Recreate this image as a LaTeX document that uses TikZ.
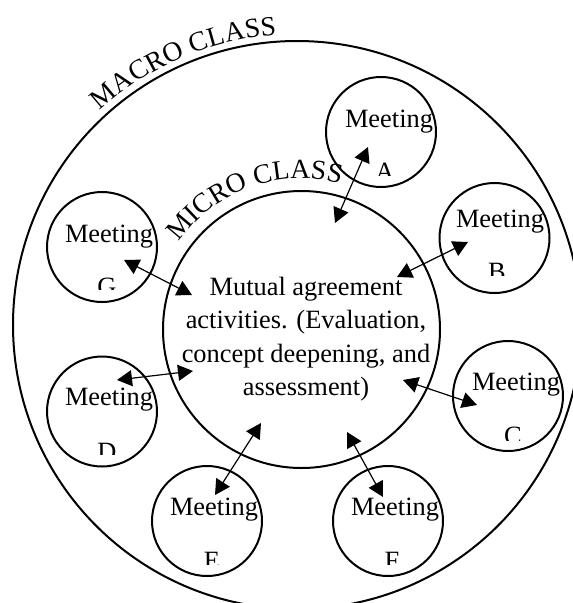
\documentclass[tikz,border=0pt]{standalone}
\usepackage{fontspec}
\setmainfont{Liberation Serif}
\usetikzlibrary{arrows.meta,decorations.text}
\newcommand{\lblfont}{\fontsize{26.4}{33.3}\selectfont}
\newcommand{\arcfont}{\fontsize{27.6}{33}\selectfont}
\tikzset{
  x=1pt,y=1pt,
  ring/.style={circle,draw=black,line width=2pt,inner sep=0pt,outer sep=0pt,minimum size=#1},
  meet/.style={anchor=base west,inner sep=0pt,outer sep=0pt,font=\lblfont,text=black},
  letter/.style={anchor=base,inner sep=0pt,outer sep=0pt,font=\lblfont,text=black},
  link/.style={line width=1.2pt,{Triangle[length=15pt,width=16pt]}-{Triangle[length=15pt,width=16pt]}},
  arctext/.style={decorate,decoration={text along path,text align={fit to path},text={#1}}}
}
\begin{document}
\begin{tikzpicture}
\clip (0,0) rectangle (573,-603);
\fill[white] (0,0) rectangle (573,-603);
% large rings
\node[ring=568pt] (macro) at (297,-325) {};
\node[ring=277pt] (micro) at (301.5,-329.5) {};
% meeting rings
\node[ring=110pt] (ma) at (381,-132) {};
\node[ring=110pt] (mb) at (494.5,-238) {};
\node[ring=110pt] (mc) at (508,-396) {};
\node[ring=110pt] (md) at (102,-411.5) {};
\node[ring=110pt] (me) at (207,-521) {};
\node[ring=110pt] (mf) at (388,-521) {};
\node[ring=110pt] (mg) at (102,-247) {};
% meeting words
\node[meet] (ta) at (345,-127) {Meeting};
\node[meet] (tb) at (456,-227) {Meeting};
\node[meet] (tc) at (472,-390) {Meeting};
\node[meet] (td) at (65,-405) {Meeting};
\node[meet] (te) at (170,-515) {Meeting};
\node[meet] (tf) at (351,-515) {Meeting};
\node[meet] (tg) at (65,-242) {Meeting};
% cut-off letters
\begin{scope}\clip (360,-150) rectangle (410,-175);\node[letter] (la) at (385,-180.5) {A};\end{scope}
\begin{scope}\clip (470,-250) rectangle (525,-275);\node[letter] (lb) at (497,-280.5) {B};\end{scope}
\begin{scope}\clip (485,-415) rectangle (540,-440);\node[letter] (lc) at (513,-444.5) {C};\end{scope}
\begin{scope}\clip (80,-430) rectangle (135,-454);\node[letter] (ld) at (107,-460.5) {D};\end{scope}
\begin{scope}\clip (185,-540) rectangle (240,-564);\node[letter] (le) at (212,-569.5) {E};\end{scope}
\begin{scope}\clip (365,-540) rectangle (420,-564);\node[letter] (lf) at (392,-569.5) {F};\end{scope}
\begin{scope}\clip (80,-265) rectangle (135,-289);\node[letter] (lg) at (107,-295.5) {G};\end{scope}
% centre text
\node[font=\lblfont,align=center,inner sep=0pt,text=black] (centre) at (306,-339) {Mutual agreement\\activities. (Evaluation,\\concept deepening, and\\assessment)};
% curved labels
\path[arctext={|\arcfont|MACRO CLASS}] (297,-325) ++(132.6:291) arc[start angle=132.6,end angle=94,radius=291];
\path[arctext={|\arcfont|MICRO CLASS}] (301.5,-329.5) ++(144.6:151) arc[start angle=144.6,end angle=75.4,radius=151];
% connector ends
\coordinate (ca) at (368,-147); \coordinate (ia) at (335,-223);
\coordinate (cb) at (468,-242); \coordinate (ib) at (397,-277);
\coordinate (cc) at (477,-405); \coordinate (ic) at (403,-380);
\coordinate (cd) at (117,-380); \coordinate (id) at (193,-371);
\coordinate (ce) at (215,-495); \coordinate (ie) at (261,-423);
\coordinate (cf) at (383,-497); \coordinate (if) at (347,-432);
\coordinate (cg) at (124,-260); \coordinate (ig) at (192,-295);
\foreach \k in {a,b,c,d,e,f,g}{\draw[link] (c\k) -- (i\k);}
\end{tikzpicture}
\end{document}
